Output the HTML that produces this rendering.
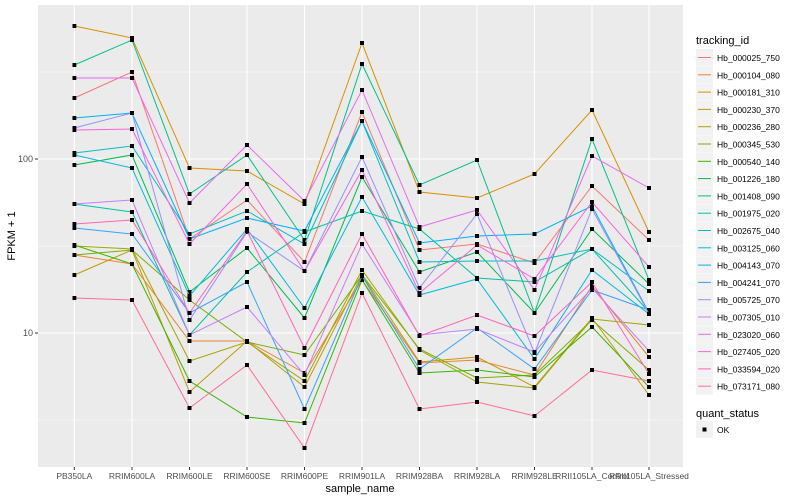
<!DOCTYPE html>
<html><head><meta charset="utf-8"><style>
body{margin:0;background:#fff}
svg{display:block;font-family:"Liberation Sans",sans-serif}
</style></head><body>
<svg width="800" height="500" viewBox="0 0 800 500">
<defs><marker id="m" markerWidth="4" markerHeight="4" refX="2" refY="2" markerUnits="userSpaceOnUse"><rect width="4" height="4" fill="#000"/></marker></defs>
<rect x="38" y="5" width="645" height="462" fill="#EBEBEB"/>
<g stroke="#fff" stroke-width="0.6"><line x1="38" x2="683" y1="72" y2="72"/><line x1="38" x2="683" y1="246" y2="246"/><line x1="38" x2="683" y1="420" y2="420"/></g>
<g stroke="#fff" stroke-width="1.1"><line x1="38" x2="683" y1="159" y2="159"/><line x1="38" x2="683" y1="333" y2="333"/>
<line x1="74.3" x2="74.3" y1="5" y2="467"/><line x1="132" x2="132" y1="5" y2="467"/><line x1="189.5" x2="189.5" y1="5" y2="467"/><line x1="247" x2="247" y1="5" y2="467"/><line x1="304.5" x2="304.5" y1="5" y2="467"/><line x1="362" x2="362" y1="5" y2="467"/><line x1="419.5" x2="419.5" y1="5" y2="467"/><line x1="477" x2="477" y1="5" y2="467"/><line x1="534.5" x2="534.5" y1="5" y2="467"/><line x1="592" x2="592" y1="5" y2="467"/><line x1="649" x2="649" y1="5" y2="467"/></g>
<g fill="none" stroke-width="1" marker-start="url(#m)" marker-mid="url(#m)" marker-end="url(#m)">
<polyline stroke="#F8766D" points="74.3,98 132,72 189.5,239 247,200 304.5,262 362,112 419.5,250 477,244 534.5,263 592,186 649,240"/>
<polyline stroke="#EA8331" points="74.3,255 132,264 189.5,341 247,341 304.5,373 362,280 419.5,363 477,360 534.5,375 592,286 649,357"/>
<polyline stroke="#D89000" points="74.3,26 132,38 189.5,168 247,171 304.5,204 362,43 419.5,192 477,198 534.5,174 592,110 649,232"/>
<polyline stroke="#C09B00" points="74.3,275 132,250 189.5,392 247,341 304.5,387 362,275 419.5,362 477,357 534.5,387 592,318 649,395"/>
<polyline stroke="#A3A500" points="74.3,246 132,249 189.5,361 247,342 304.5,381 362,270 419.5,350 477,382 534.5,388 592,319 649,325"/>
<polyline stroke="#7CAE00" points="74.3,255 132,250 189.5,300 247,342 304.5,355 362,275 419.5,349 477,378 534.5,375 592,320 649,370"/>
<polyline stroke="#39B600" points="74.3,245 132,264 189.5,381 247,417 304.5,423 362,280 419.5,373 477,370 534.5,377 592,327 649,387"/>
<polyline stroke="#00BB4E" points="74.3,165 132,155 189.5,292 247,248 304.5,318 362,177 419.5,272 477,252 534.5,313 592,229 649,284"/>
<polyline stroke="#00C08B" points="74.3,65 132,40 189.5,194 247,155 304.5,240 362,64 419.5,185 477,160 534.5,313 592,139 649,280"/>
<polyline stroke="#00C1A3" points="74.3,204 132,212 189.5,335 247,272 304.5,232 362,211 419.5,229 477,278 534.5,282 592,249 649,312"/>
<polyline stroke="#00BFC4" points="74.3,153 132,146 189.5,234 247,211 304.5,244 362,121 419.5,262 477,261 534.5,261 592,249 649,291"/>
<polyline stroke="#00BAE0" points="74.3,155 132,168 189.5,296 247,229 304.5,308 362,197 419.5,295 477,279 534.5,359 592,270 649,314"/>
<polyline stroke="#00B0F6" points="74.3,118 132,113 189.5,239 247,218 304.5,231 362,121 419.5,243 477,236 534.5,234 592,206 649,313"/>
<polyline stroke="#35A2FF" points="74.3,228 132,234 189.5,313 247,282 304.5,409 362,276 419.5,369 477,328 534.5,369 592,290 649,310"/>
<polyline stroke="#9590FF" points="74.3,128 132,113 189.5,320 247,232 304.5,271 362,157 419.5,288 477,214 534.5,353 592,209 649,314"/>
<polyline stroke="#C77CFF" points="74.3,204 132,200 189.5,335 247,307 304.5,375 362,244 419.5,335 477,329 534.5,352 592,288 649,351"/>
<polyline stroke="#E76BF3" points="74.3,78 132,78 189.5,203 247,145 304.5,201 362,90 419.5,227 477,210 534.5,290 592,156 649,188"/>
<polyline stroke="#FA62DB" points="74.3,130 132,129 189.5,244 247,184 304.5,271 362,170 419.5,293 477,245 534.5,279 592,202 649,267"/>
<polyline stroke="#FF62BC" points="74.3,224 132,220 189.5,313 247,231 304.5,348 362,234 419.5,336 477,315 534.5,336 592,282 649,374"/>
<polyline stroke="#FF6C91" points="74.3,298 132,300 189.5,408 247,365 304.5,448 362,293 419.5,409 477,402 534.5,416 592,370 649,381"/>
</g>
<g stroke="#333" stroke-width="1"><line x1="35" x2="38" y1="159" y2="159"/><line x1="35" x2="38" y1="333" y2="333"/></g>
<g font-size="9" fill="#4D4D4D" text-anchor="end"><text x="33" y="162">100</text><text x="33" y="336">10</text></g>
<g stroke="#333"><line x1="74.3" x2="74.3" y1="467" y2="470"/><line x1="132" x2="132" y1="467" y2="470"/><line x1="189.5" x2="189.5" y1="467" y2="470"/><line x1="247" x2="247" y1="467" y2="470"/><line x1="304.5" x2="304.5" y1="467" y2="470"/><line x1="362" x2="362" y1="467" y2="470"/><line x1="419.5" x2="419.5" y1="467" y2="470"/><line x1="477" x2="477" y1="467" y2="470"/><line x1="534.5" x2="534.5" y1="467" y2="470"/><line x1="592" x2="592" y1="467" y2="470"/><line x1="649" x2="649" y1="467" y2="470"/></g>
<g font-size="8.5" fill="#4D4D4D" text-anchor="middle">
<text x="74.3" y="479">PB350LA</text><text x="132" y="479">RRIM600LA</text><text x="189.5" y="479">RRIM600LE</text><text x="247" y="479">RRIM600SE</text><text x="304.5" y="479">RRIM600PE</text><text x="362" y="479">RRIM901LA</text><text x="419.5" y="479">RRIM928BA</text><text x="477" y="479">RRIM928LA</text><text x="534.5" y="479">RRIM928LE</text><text x="592" y="479">RRII105LA_Control</text><text x="649" y="479">RRII105LA_Stressed</text></g>
<text x="360" y="492" font-size="11" text-anchor="middle">sample_name</text>
<text transform="translate(15,236) rotate(-90)" font-size="11" text-anchor="middle">FPKM + 1</text>
<text x="696" y="44" font-size="11">tracking_id</text>
<g font-size="8.5" fill="#000">
<g transform="translate(0,0)"><rect x="696" y="49" width="17" height="17" fill="#F2F2F2"/><line x1="698" x2="711" y1="57.5" y2="57.5" stroke="#F8766D"/><text x="717" y="61">Hb_000025_750</text></g>
<g transform="translate(0,17.3)"><rect x="696" y="49" width="17" height="17" fill="#F2F2F2"/><line x1="698" x2="711" y1="57.5" y2="57.5" stroke="#EA8331"/><text x="717" y="61">Hb_000104_080</text></g>
<g transform="translate(0,34.6)"><rect x="696" y="49" width="17" height="17" fill="#F2F2F2"/><line x1="698" x2="711" y1="57.5" y2="57.5" stroke="#D89000"/><text x="717" y="61">Hb_000181_310</text></g>
<g transform="translate(0,51.9)"><rect x="696" y="49" width="17" height="17" fill="#F2F2F2"/><line x1="698" x2="711" y1="57.5" y2="57.5" stroke="#C09B00"/><text x="717" y="61">Hb_000230_370</text></g>
<g transform="translate(0,69.2)"><rect x="696" y="49" width="17" height="17" fill="#F2F2F2"/><line x1="698" x2="711" y1="57.5" y2="57.5" stroke="#A3A500"/><text x="717" y="61">Hb_000236_280</text></g>
<g transform="translate(0,86.5)"><rect x="696" y="49" width="17" height="17" fill="#F2F2F2"/><line x1="698" x2="711" y1="57.5" y2="57.5" stroke="#7CAE00"/><text x="717" y="61">Hb_000345_530</text></g>
<g transform="translate(0,103.8)"><rect x="696" y="49" width="17" height="17" fill="#F2F2F2"/><line x1="698" x2="711" y1="57.5" y2="57.5" stroke="#39B600"/><text x="717" y="61">Hb_000540_140</text></g>
<g transform="translate(0,121.1)"><rect x="696" y="49" width="17" height="17" fill="#F2F2F2"/><line x1="698" x2="711" y1="57.5" y2="57.5" stroke="#00BB4E"/><text x="717" y="61">Hb_001226_180</text></g>
<g transform="translate(0,138.4)"><rect x="696" y="49" width="17" height="17" fill="#F2F2F2"/><line x1="698" x2="711" y1="57.5" y2="57.5" stroke="#00BF7D"/><text x="717" y="61">Hb_001408_090</text></g>
<g transform="translate(0,155.7)"><rect x="696" y="49" width="17" height="17" fill="#F2F2F2"/><line x1="698" x2="711" y1="57.5" y2="57.5" stroke="#00C1A3"/><text x="717" y="61">Hb_001975_020</text></g>
<g transform="translate(0,173)"><rect x="696" y="49" width="17" height="17" fill="#F2F2F2"/><line x1="698" x2="711" y1="57.5" y2="57.5" stroke="#00BFC4"/><text x="717" y="61">Hb_002675_040</text></g>
<g transform="translate(0,190.3)"><rect x="696" y="49" width="17" height="17" fill="#F2F2F2"/><line x1="698" x2="711" y1="57.5" y2="57.5" stroke="#00BAE0"/><text x="717" y="61">Hb_003125_060</text></g>
<g transform="translate(0,207.6)"><rect x="696" y="49" width="17" height="17" fill="#F2F2F2"/><line x1="698" x2="711" y1="57.5" y2="57.5" stroke="#00B0F6"/><text x="717" y="61">Hb_004143_070</text></g>
<g transform="translate(0,224.9)"><rect x="696" y="49" width="17" height="17" fill="#F2F2F2"/><line x1="698" x2="711" y1="57.5" y2="57.5" stroke="#35A2FF"/><text x="717" y="61">Hb_004241_070</text></g>
<g transform="translate(0,242.2)"><rect x="696" y="49" width="17" height="17" fill="#F2F2F2"/><line x1="698" x2="711" y1="57.5" y2="57.5" stroke="#9590FF"/><text x="717" y="61">Hb_005725_070</text></g>
<g transform="translate(0,259.5)"><rect x="696" y="49" width="17" height="17" fill="#F2F2F2"/><line x1="698" x2="711" y1="57.5" y2="57.5" stroke="#C77CFF"/><text x="717" y="61">Hb_007305_010</text></g>
<g transform="translate(0,276.8)"><rect x="696" y="49" width="17" height="17" fill="#F2F2F2"/><line x1="698" x2="711" y1="57.5" y2="57.5" stroke="#E76BF3"/><text x="717" y="61">Hb_023020_060</text></g>
<g transform="translate(0,294.1)"><rect x="696" y="49" width="17" height="17" fill="#F2F2F2"/><line x1="698" x2="711" y1="57.5" y2="57.5" stroke="#FA62DB"/><text x="717" y="61">Hb_027405_020</text></g>
<g transform="translate(0,311.4)"><rect x="696" y="49" width="17" height="17" fill="#F2F2F2"/><line x1="698" x2="711" y1="57.5" y2="57.5" stroke="#FF62BC"/><text x="717" y="61">Hb_033594_020</text></g>
<g transform="translate(0,328.7)"><rect x="696" y="49" width="17" height="17" fill="#F2F2F2"/><line x1="698" x2="711" y1="57.5" y2="57.5" stroke="#FF6C91"/><text x="717" y="61">Hb_073171_080</text></g>
</g>
<text x="696" y="417" font-size="11">quant_status</text>
<rect x="696" y="421" width="17" height="17" fill="#F2F2F2"/><rect x="702.5" y="427.5" width="4" height="4" fill="#000"/>
<text x="717" y="433" font-size="8.5">OK</text>
</svg>
</body></html>
